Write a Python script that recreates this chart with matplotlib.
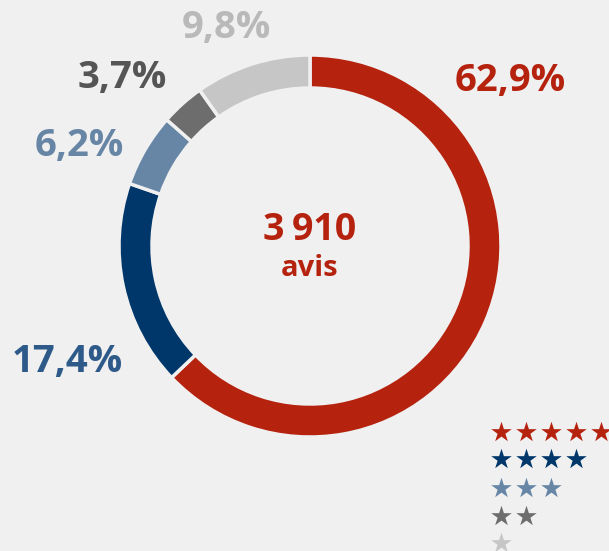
import matplotlib.pyplot as plt

# review share per star rating, clockwise from the top
ratings = [5, 4, 3, 2, 1]
shares = [62.9, 17.4, 6.2, 3.7, 9.8]
share_labels = ["62,9%", "17,4%", "6,2%", "3,7%", "9,8%"]
total_label = "3\u2009910"
total_unit = "avis"

colors = ["#b5220e", "#00376b", "#6786a6", "#6d6d6d", "#c6c6c6"]
label_colors = ["#b5220e", "#2e5a8a", "#6786a6", "#555555", "#b9b9b9"]
label_pos = [(510, 81), (67, 362), (79, 146), (122, 78), (226, 28)]

W, H = 609, 551
fig = plt.figure(figsize=(W / 100, H / 100), dpi=100, facecolor="#f0f0f0")
ax = fig.add_axes([0, 0, 1, 1])
ax.set_facecolor("#f0f0f0")

cx, cy, R = 310, H - 246, 191
ax.pie(shares, colors=colors, startangle=90, counterclock=False,
       center=(cx, cy), radius=R,
       wedgeprops=dict(width=33, edgecolor="#f0f0f0", linewidth=2.5))

font = ["Open Sans", "DejaVu Sans"]
for lab, (x, y), c in zip(share_labels, label_pos, label_colors):
    ax.text(x, H - y, lab, color=c, fontsize=27.5, fontweight="bold",
            family=font, ha="center", va="center")

ax.text(cx, H - 230, total_label, color=colors[0], fontsize=27,
        fontweight="bold", family=font, ha="center", va="center")
ax.text(cx, H - 269, total_unit, color=colors[0], fontsize=21,
        fontweight="bold", family=font, ha="center", va="center")

# star legend
row_y = [432, 459, 488, 516, 543]
for n, c, y in zip(ratings, colors, row_y):
    xs = [501 + 25 * i for i in range(n)]
    ax.scatter(xs, [H - y] * n, marker="*", s=240, color=c, linewidths=0,
               clip_on=False)

ax.set_xlim(0, W)
ax.set_ylim(0, H)
ax.set_aspect("equal")
ax.axis("off")

fig.savefig("out.png", dpi=100, facecolor=fig.get_facecolor())
